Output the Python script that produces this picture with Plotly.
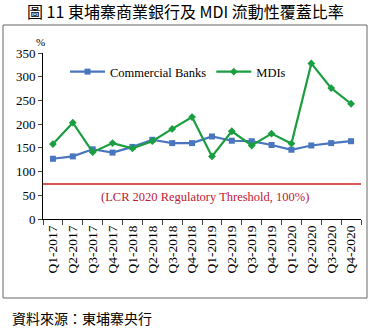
import plotly.graph_objects as go

quarters = ["Q1-2017","Q2-2017","Q3-2017","Q4-2017","Q1-2018","Q2-2018","Q3-2018","Q4-2018",
            "Q1-2019","Q2-2019","Q3-2019","Q4-2019","Q1-2020","Q2-2020","Q3-2020","Q4-2020"]
commercial = [127,132,147,140,152,167,160,160,174,165,164,156,146,155,160,164]
mdis = [158,203,141,160,149,164,190,215,132,185,155,180,159,328,276,243]
threshold = 74
y_ticks = [0,50,100,150,200,250,300,350]

W, H = 370, 334
L, R, T, B = 43, 9, 53, 115
pw, ph = W - L - R, H - T - B
def px(x): return (x - L) / pw
def py(y): return (H - B - y) / ph

serif = "Liberation Serif"
cjk = "Noto Sans CJK TC"

fig = go.Figure()
fig.add_trace(go.Scatter(x=quarters, y=commercial, name="Commercial Banks", mode="lines+markers",
                         line=dict(color="#4a76c0", width=2.2),
                         marker=dict(symbol="square", size=6, color="#4a76c0")))
fig.add_trace(go.Scatter(x=quarters, y=mdis, name="MDIs", mode="lines+markers",
                         line=dict(color="#1a9e40", width=2.2),
                         marker=dict(symbol="diamond", size=6, color="#1a9e40")))
fig.add_hline(y=threshold, line=dict(color="#d02020", width=1.5))

fig.update_layout(
    width=W, height=H, margin=dict(l=L, r=R, t=T, b=B),
    paper_bgcolor="white", plot_bgcolor="white",
    font=dict(family=serif, size=12, color="black"),
    showlegend=True,
    legend=dict(orientation="h", x=px(65), y=py(72), xanchor="left", yanchor="middle",
                bgcolor="rgba(0,0,0,0)", font=dict(family=serif, size=12.5), itemwidth=35,
                traceorder="normal"),
    xaxis=dict(type="category", range=[-0.5, 15.5], tickangle=-90, showgrid=False,
               showline=True, linecolor="black", linewidth=1, ticks="outside", ticklen=5,
               tickson="boundaries", tickfont=dict(family=serif, size=13.5), zeroline=False),
    yaxis=dict(range=[0, 350], tickvals=y_ticks, showgrid=False, showline=True,
               linecolor="black", linewidth=1, ticks="outside", ticklen=4,
               tickfont=dict(family=serif, size=13), zeroline=False),
)

fig.add_shape(type="rect", xref="paper", yref="paper", x0=px(3), x1=px(367), y0=py(298), y1=py(25),
              line=dict(color="#666", width=1), layer="below")

fig.add_annotation(text="圖 11 東埔寨商業銀行及 MDI 流動性覆蓋比率", xref="paper", yref="paper",
                   x=px(185), y=py(11), xanchor="center", yanchor="middle", showarrow=False,
                   font=dict(family=cjk, size=16, color="black"))
fig.add_annotation(text="%", xref="paper", yref="paper", x=px(40), y=py(42), xanchor="center",
                   yanchor="middle", showarrow=False, font=dict(family=serif, size=11))
fig.add_annotation(text="(LCR 2020 Regulatory Threshold, 100%)", xref="paper", yref="paper",
                   x=px(205), y=py(197), xanchor="center", yanchor="middle", showarrow=False,
                   font=dict(family=serif, size=12.5, color="#c02030"))
fig.add_annotation(text="資料來源：東埔寨央行", xref="paper", yref="paper",
                   x=px(10), y=py(318), xanchor="left", yanchor="middle", showarrow=False,
                   font=dict(family=cjk, size=14, color="black"))

fig.write_html("out.html")
